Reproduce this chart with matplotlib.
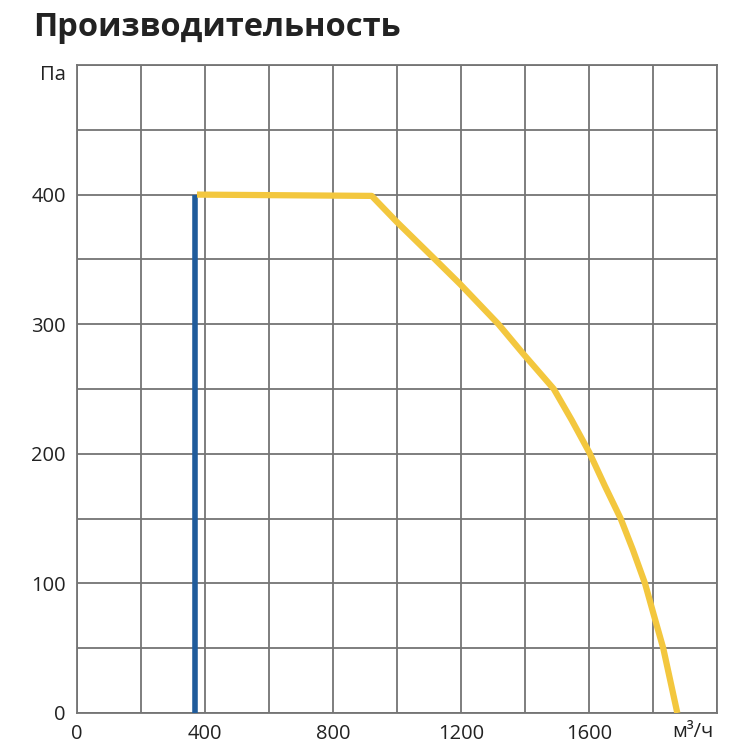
import matplotlib
matplotlib.use("Agg")
import matplotlib.pyplot as plt

# fan performance curve
flow = [375, 921, 999, 1119, 1197, 1317, 1395, 1490, 1546, 1601,
        1650, 1699, 1737, 1775, 1801, 1832, 1876]
pressure = [400, 399, 379, 350, 331, 300, 277, 250, 226, 201,
            175, 150, 126, 100, 77, 50, 0]

# vertical limit line
limit_flow = [370, 370]
limit_pressure = [0, 400]

xticks = [0, 400, 800, 1200, 1600]
yticks = [0, 100, 200, 300, 400]

plt.rcParams['font.family'] = ['Open Sans', 'DejaVu Sans']

fig = plt.figure(figsize=(7.5, 7.5), dpi=100)
ax = fig.add_axes([77 / 750, 37 / 750, 640 / 750, 648 / 750])

grid_color = '#747474'
for x in range(0, 2001, 200):
    ax.axvline(x, color=grid_color, lw=1.3, zorder=1)
for y in range(0, 501, 50):
    ax.axhline(y, color=grid_color, lw=1.3, zorder=1)

ax.plot(limit_flow, limit_pressure, color='#1f5b9b', lw=4, solid_capstyle='butt', zorder=3)
ax.plot(flow, pressure, color='#f3c73e', lw=4.5, solid_capstyle='butt',
        solid_joinstyle='round', zorder=4)

ax.set_xlim(0, 2000)
ax.set_ylim(0, 500)
ax.set_xticks(xticks)
ax.set_xticklabels([str(v) for v in xticks])
ax.set_yticks(yticks)
ax.set_yticklabels([str(v) for v in yticks])
ax.tick_params(length=0, labelsize=14.5, colors='#222222', pad=8)
for s in ax.spines.values():
    s.set_color(grid_color)
    s.set_linewidth(1.3)

ax.text(1925, -7, 'м³/ч', ha='center', va='top', fontsize=14.5, color='#222222')
ax.text(-11 / 0.32, 492, 'Па', ha='right', va='center', fontsize=14.5, color='#222222')

fig.text(33 / 750, 1 - 27 / 750, 'Производительность', ha='left', va='center',
         fontsize=23.5, fontweight='bold', color='#222222')

fig.savefig('out.png', dpi=100, facecolor='white')
